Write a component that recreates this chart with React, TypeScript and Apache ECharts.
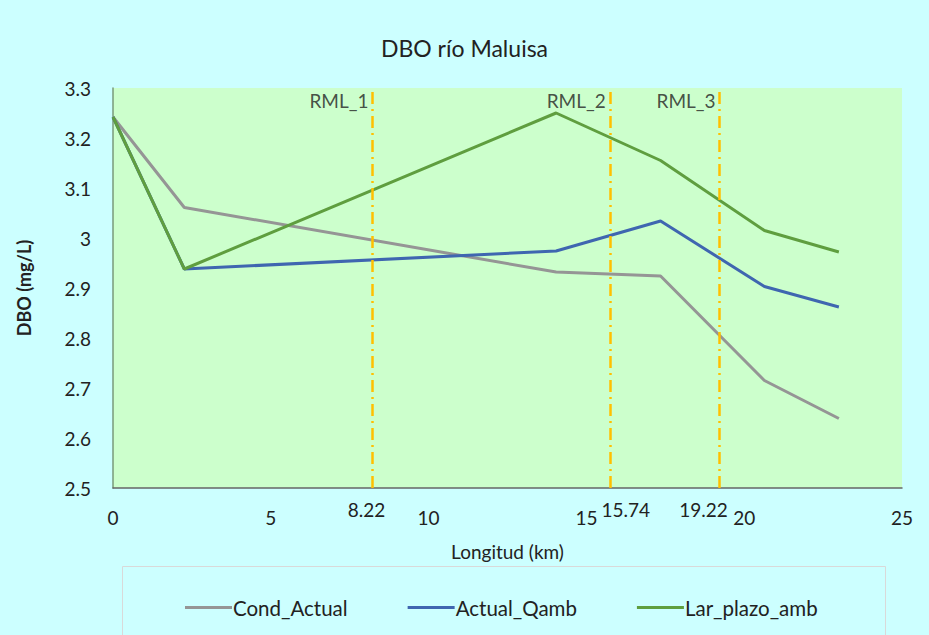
import React, { useEffect, useRef } from "react";
import * as echarts from "echarts";

const xKm = [0, 2.26, 14.04, 17.35, 20.64, 23.0];
const condActual = [3.242, 3.061, 2.932, 2.924, 2.715, 2.639];
const actualQamb = [3.242, 2.938, 2.974, 3.034, 2.903, 2.862];
const larPlazoAmb = [3.242, 2.938, 3.25, 3.155, 3.015, 2.972];
const rmlNames = ["RML_1", "RML_2", "RML_3"];
const rmlKm = [8.22, 15.74, 19.22];
const seriesNames = ["Cond_Actual", "Actual_Qamb", "Lar_plazo_amb"];
const seriesColors = ["#959595", "#3f66b0", "#5f9e3f"];

const FONT = "Lato, 'Open Sans', sans-serif";
const labelOffsets = [-6, 16, -16];

export default function App() {
  const ref = useRef<HTMLDivElement>(null);
  useEffect(() => {
    if (!ref.current) return;
    const chart = echarts.init(ref.current, null, { renderer: "svg" });
    const values = [condActual, actualQamb, larPlazoAmb];
    const lineSeries = seriesNames.map((name, i) => ({
      name,
      type: "line",
      data: xKm.map((x, j) => [x, values[i][j]]),
      showSymbol: false,
      lineStyle: { color: seriesColors[i], width: 3 },
      itemStyle: { color: seriesColors[i] },
      z: 3,
    }));
    chart.setOption({
      animation: false,
      backgroundColor: "#ccffff",
      textStyle: { fontFamily: FONT },
      title: {
        text: "DBO río Maluisa",
        left: "center",
        top: 31,
        textStyle: { fontFamily: FONT, fontSize: 23, fontWeight: "normal", color: "#222" },
      },
      grid: { left: 113, right: 27, top: 88, bottom: 147, show: true, backgroundColor: "#ccffcc", borderWidth: 0 },
      xAxis: {
        type: "value",
        min: 0,
        max: 25,
        interval: 5,
        name: "Longitud (km)",
        nameLocation: "middle",
        nameGap: 54,
        nameTextStyle: { fontFamily: FONT, fontSize: 19, color: "#222" },
        axisLine: { show: true, lineStyle: { color: "#666", width: 1.5 } },
        axisTick: { show: false },
        splitLine: { show: false },
        axisLabel: { fontFamily: FONT, fontSize: 19, color: "#222", margin: 20 },
      },
      yAxis: {
        type: "value",
        min: 2.5,
        max: 3.3,
        interval: 0.1,
        name: "DBO (mg/L)",
        nameLocation: "middle",
        nameGap: 80,
        nameTextStyle: { fontFamily: FONT, fontSize: 18, fontWeight: "bold", color: "#222" },
        axisLine: { show: true, lineStyle: { color: "#7a9a7a", width: 1.5 } },
        axisTick: { show: false },
        splitLine: { show: false },
        axisLabel: {
          fontFamily: FONT,
          fontSize: 19,
          color: "#222",
          margin: 22,
          formatter: (v: number) => String(Math.round(v * 10) / 10),
        },
      },
      legend: {
        data: seriesNames,
        top: 592,
        left: 180,
        icon: "rect",
        itemWidth: 47,
        itemHeight: 3,
        itemGap: 60,
        textStyle: { fontFamily: FONT, fontSize: 20.5, color: "#222", padding: [0, 0, 0, -4] },
      },
      graphic: [
        {
          type: "rect",
          left: 120,
          top: 564,
          shape: { width: 763, height: 90 },
          style: { fill: "none", stroke: "#d9d9d9", lineWidth: 1 },
          silent: true,
        },
      ],
      series: [
        ...lineSeries,
        {
          name: "RML",
          type: "line",
          data: [],
          markLine: {
            silent: true,
            symbol: ["none", "none"],
            lineStyle: { color: "#ffc000", width: 2.5, type: [12, 5, 2, 5] },
            label: {
              show: true,
              position: "start",
              distance: 12,
              fontFamily: FONT,
              fontSize: 19,
              color: "#222",
              formatter: (p: any) => String(p.value),
            },
            data: rmlKm.map((x, i) => ({ xAxis: x, label: { offset: [labelOffsets[i], 0] } })),
          },
          z: 2,
        },
        {
          name: "RMLlabels",
          type: "scatter",
          symbolSize: 0,
          data: rmlKm.map((x, i) => ({ value: [x, 3.3], name: rmlNames[i] })),
          label: {
            show: true,
            position: "left",
            offset: [0, 12],
            distance: 4,
            fontFamily: FONT,
            fontSize: 19,
            color: "#222",
            formatter: (p: any) => p.name,
          },
          z: 4,
        },
      ],
    });
    return () => chart.dispose();
  }, []);
  return <div ref={ref} style={{ width: 929, height: 635, position: "absolute", left: 0, top: 0 }} />;
}
